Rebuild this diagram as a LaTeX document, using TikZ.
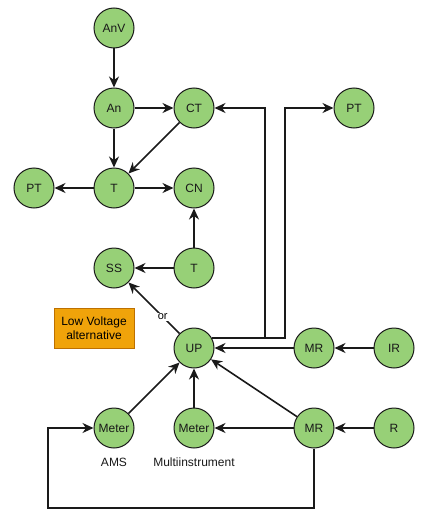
\documentclass[tikz,border=0pt]{standalone}
\usepackage{fontspec}
\setmainfont{Liberation Sans}
\usepackage{tikz}
\usetikzlibrary{arrows.meta, positioning}

\definecolor{nodegreen}{HTML}{97D077}
\definecolor{boxorange}{HTML}{F0A30A}
\definecolor{boxline}{HTML}{BD7000}
\definecolor{inkdark}{HTML}{1A1A1A}

\tikzset{
    state/.style={circle, draw=inkdark, fill=nodegreen, line width=1pt, minimum size=40pt, inner sep=0pt, font=\fontsize{12}{14}\selectfont, text=black!90},
    note/.style={draw=boxline, fill=boxorange, line width=1pt, minimum width=80pt, minimum height=40pt, align=center, font=\fontsize{12}{14}\selectfont},
    caption/.style={font=\fontsize{12}{14}\selectfont, text=black!90},
    link/.style={-{Stealth[length=11pt,width=10pt,inset=3.5pt]}, line width=1.6pt, draw=inkdark},
}

\begin{document}
\begin{tikzpicture}[x=1pt, y=-1pt]
        \useasboundingbox (0,0) rectangle (430,527);
        % Top part
        \node[state] (AnV) at (114,28) {AnV};
        \node[state] (An) at (114,108) {An};
        \node[state] (CT) at (194,108) {CT};
        \node[state] (PTr) at (354,108) {PT};
        \node[state] (PTl) at (34,188) {PT};
        \node[state] (T) at (114,188) {T};
        \node[state] (CN) at (194,188) {CN};
        \node[state] (SS) at (114,268) {SS};
        \node[state] (Tb) at (194,268) {T};
        % Middle part
        \node[note] (LV) at (94,328) {Low Voltage\\alternative};
        \node[state] (UP) at (194,348) {UP};
        \node[state] (MRa) at (314,348) {MR};
        \node[state] (IR) at (394,348) {IR};
        % Bottom part
        \node[state] (MeterA) at (114,428) {Meter};
        \node[state] (MeterB) at (194,428) {Meter};
        \node[state] (MRb) at (314,428) {MR};
        \node[state] (R) at (394,428) {R};
        \node[caption] (AMS) at (114,462) {AMS};
        \node[caption] (Multi) at (194,462) {Multiinstrument};
        \coordinate (loop) at (48,508);
        % Arrows
        \draw[link] (AnV) -- (An);
        \draw[link] (An) -- (CT);
        \draw[link] (An) -- (T);
        \draw[link] (CT) -- (T);
        \draw[link] (T) -- (PTl);
        \draw[link] (T) -- (CN);
        \draw[link] (Tb) -- (CN);
        \draw[link] (Tb) -- (SS);
        \draw[link] (UP) -- node[pos=0.33, fill=white, inner sep=1pt, font=\fontsize{11}{13}\selectfont] {or} (SS);
        \draw[link] (UP.30) -- ++(53,0) |- (CT);
        \draw[link] (UP.30) -- ++(73,0) |- (PTr);
        \draw[link] (IR) -- (MRa);
        \draw[link] (MRa) -- (UP);
        \draw[link] (MeterA) -- (UP);
        \draw[link] (MeterB) -- (UP);
        \draw[link] (MRb) -- (UP);
        \draw[link] (R) -- (MRb);
        \draw[link] (MRb) -- (MeterB);
        \draw[link] (MRb.south) |- (loop) |- (MeterA);
    \end{tikzpicture}
\end{document}
